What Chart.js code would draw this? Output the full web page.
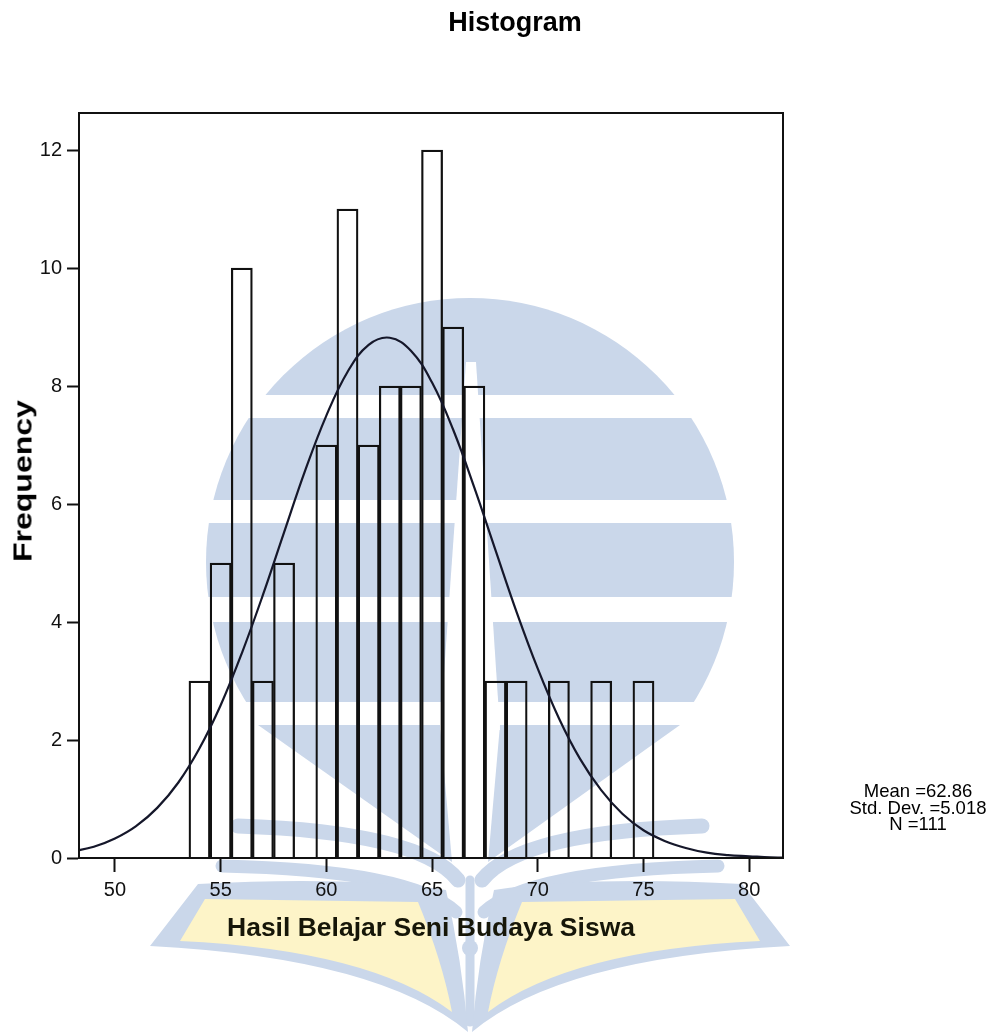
<!DOCTYPE html>
<html>
<head>
<meta charset="utf-8">
<title>Histogram</title>
<script src="https://cdn.jsdelivr.net/npm/chart.js@4.4.1/dist/chart.umd.min.js"></script>
<style>
    html, body { margin: 0; padding: 0; background: #fff; }
    #wrap { position: relative; width: 992px; height: 1033px; overflow: hidden; }
    #wrap canvas { position: absolute; left: 0; top: 0; }
    .txt { position: absolute; font-family: 'Liberation Sans', Arial, sans-serif; color: #000; white-space: nowrap; }
    #title { left: 515px; top: 9px; font-size: 27px; font-weight: bold; line-height: 27px; transform: translateX(-50%); }
    #xTitle { left: 431px; top: 914px; font-size: 26.5px; font-weight: bold; line-height: 27px; color: #161608; transform: translateX(-50%); }
    #yTitle { left: 23px; top: 481px; font-size: 25px; font-weight: bold; line-height: 25px; transform: translate(-50%, -50%) rotate(-90deg) scaleX(1.28); }
    #stats { left: 918px; top: 783px; font-size: 18.5px; line-height: 16.5px; text-align: center; transform: translateX(-50%); }
</style>
</head>
<body>
<div id="wrap">
    <canvas id="histChart" width="992" height="1033"></canvas>
    <div class="txt" id="title">Histogram</div>
    <div class="txt" id="yTitle">Frequency</div>
    <div class="txt" id="xTitle">Hasil Belajar Seni Budaya Siswa</div>
    <div class="txt" id="stats">Mean =62.86<br>Std. Dev. =5.018<br>N =111</div>
</div>
<script>
// Histogram data
const scores = [54, 55, 56, 57, 58, 59, 60, 61, 62, 63, 64, 65, 66, 67, 68, 69, 70, 71, 72, 73, 74, 75];
const frequencies = [3, 5, 10, 3, 5, 0, 7, 11, 7, 8, 8, 12, 9, 8, 3, 3, 0, 3, 0, 3, 0, 3];

// Normal curve
const curveX = [48, 49, 50, 51, 52, 53, 54, 55, 56, 57, 58, 59, 60, 61, 62, 63, 64, 65,
                66, 67, 68, 69, 70, 71, 72, 73, 74, 75, 76, 77, 78, 79, 80, 81, 82];
const curveY = [0.11, 0.19, 0.33, 0.54, 0.85, 1.28, 1.86, 2.59, 3.47, 4.46, 5.52, 6.57, 7.50, 8.24, 8.70, 8.82, 8.60, 8.06,
                7.26, 6.28, 5.22, 4.17, 3.21, 2.37, 1.68, 1.15, 0.75, 0.47, 0.29, 0.17, 0.09, 0.05, 0.03, 0.01, 0.01];

const xTicks = [50, 55, 60, 65, 70, 75, 80];
const yTicks = [0, 2, 4, 6, 8, 10, 12];

// Faint logo watermark behind the plot
const watermark = {
    id: 'watermark',
    beforeDraw(chart) {
        const ctx = chart.ctx;
        const blue = '#cad7ea', yellow = '#fdf4c8';
        const cx = 470;
        const poly = pts => {
            ctx.beginPath();
            pts.forEach(([x, y], i) => i ? ctx.lineTo(x, y) : ctx.moveTo(x, y));
            ctx.closePath();
            ctx.fill();
        };
        ctx.save();

        // striped disc
        ctx.save();
        ctx.beginPath();
        ctx.arc(cx, 562, 264, 0, Math.PI * 2);
        ctx.clip();
        ctx.fillStyle = blue;
        [[290, 395], [418, 500], [523, 597], [622, 702]].forEach(([a, b]) => {
            ctx.fillRect(190, a, 560, b - a);
        });
        ctx.restore();

        // lower fan blades
        ctx.fillStyle = blue;
        poly([[258, 725], [440, 725], [452, 862]]);
        poly([[500, 725], [680, 725], [488, 862]]);

        // white nib down the middle
        ctx.fillStyle = '#fff';
        poly([[466, 362], [476, 362], [500, 730], [440, 730]]);

        // curved branches
        ctx.strokeStyle = blue;
        ctx.lineCap = 'round';
        [1, -1].forEach(s => {
            const X = x => cx + s * (x - cx);
            ctx.lineWidth = 15;
            ctx.beginPath();
            ctx.moveTo(X(238), 826);
            ctx.quadraticCurveTo(X(420), 832, X(458), 880);
            ctx.stroke();
            ctx.lineWidth = 13;
            ctx.beginPath();
            ctx.moveTo(X(222), 866);
            ctx.quadraticCurveTo(X(410), 870, X(456), 912);
            ctx.stroke();
        });

        // stem and bulb
        ctx.lineWidth = 9;
        ctx.beginPath();
        ctx.moveTo(cx, 880);
        ctx.lineTo(cx, 1022);
        ctx.stroke();
        ctx.fillStyle = blue;
        ctx.beginPath();
        ctx.arc(cx, 948, 8, 0, Math.PI * 2);
        ctx.fill();

        // open book wings
        [1, -1].forEach(s => {
            const X = x => cx + s * (x - cx);
            ctx.fillStyle = blue;
            ctx.beginPath();
            ctx.moveTo(X(198), 884);
            ctx.quadraticCurveTo(X(350), 876, X(446), 890);
            ctx.quadraticCurveTo(X(462), 960, X(468), 1032);
            ctx.quadraticCurveTo(X(380), 958, X(150), 946);
            ctx.closePath();
            ctx.fill();
            ctx.fillStyle = yellow;
            ctx.beginPath();
            ctx.moveTo(X(205), 899);
            ctx.lineTo(X(418), 902);
            ctx.quadraticCurveTo(X(442), 960, X(452), 1012);
            ctx.quadraticCurveTo(X(370), 950, X(180), 941);
            ctx.closePath();
            ctx.fill();
        });
        ctx.restore();
    }
};

// Black frame round the plot area
const plotFrame = {
    id: 'plotFrame',
    afterDraw(chart) {
        const { ctx, chartArea: a } = chart;
        ctx.save();
        ctx.strokeStyle = '#111';
        ctx.lineWidth = 2;
        ctx.strokeRect(a.left, a.top, a.right - a.left, a.bottom - a.top);
        ctx.restore();
    }
};

const tickFont = { family: "'Liberation Sans', Arial, sans-serif", size: 20 };

const ctx = document.getElementById('histChart').getContext('2d');
const histChart = new Chart(ctx, {
    type: 'bar',
    data: {
        datasets: [{
            type: 'line',
            data: curveX.map((x, i) => ({ x: x, y: curveY[i] })),
            borderColor: '#15172a',
            borderWidth: 2.2,
            pointRadius: 0,
            tension: 0.4,
            fill: false,
            order: 0
        }, {
            type: 'bar',
            data: scores.map((x, i) => ({ x: x, y: frequencies[i] })),
            backgroundColor: 'rgba(0,0,0,0)',
            borderColor: '#111',
            borderWidth: 1.6,
            barPercentage: 1,
            categoryPercentage: 1,
            order: 1
        }]
    },
    options: {
        responsive: false,
        animation: false,
        layout: { padding: { top: 113, right: 209, bottom: 135, left: 0 } },
        plugins: {
            legend: { display: false },
            tooltip: { enabled: false }
        },
        scales: {
            x: {
                type: 'linear',
                min: 48.3,
                max: 81.6,
                offset: false,
                afterBuildTicks: s => { s.ticks = xTicks.map(v => ({ value: v })); },
                afterFit: s => { s.height = 40; },
                ticks: { font: tickFont, color: '#111', padding: 6, maxRotation: 0 },
                grid: { offset: false, drawOnChartArea: false, tickLength: 14, tickColor: '#111', tickWidth: 2 },
                border: { color: '#111', width: 2 }
            },
            y: {
                min: 0,
                max: 12.63,
                afterBuildTicks: s => { s.ticks = yTicks.map(v => ({ value: v })); },
                afterFit: s => { s.width = 79; },
                ticks: { font: tickFont, color: '#111', padding: 5 },
                grid: { offset: false, drawOnChartArea: false, tickLength: 12, tickColor: '#111', tickWidth: 2 },
                border: { color: '#111', width: 2 }
            }
        }
    },
    plugins: [watermark, plotFrame]
});
</script>
</body>
</html>
